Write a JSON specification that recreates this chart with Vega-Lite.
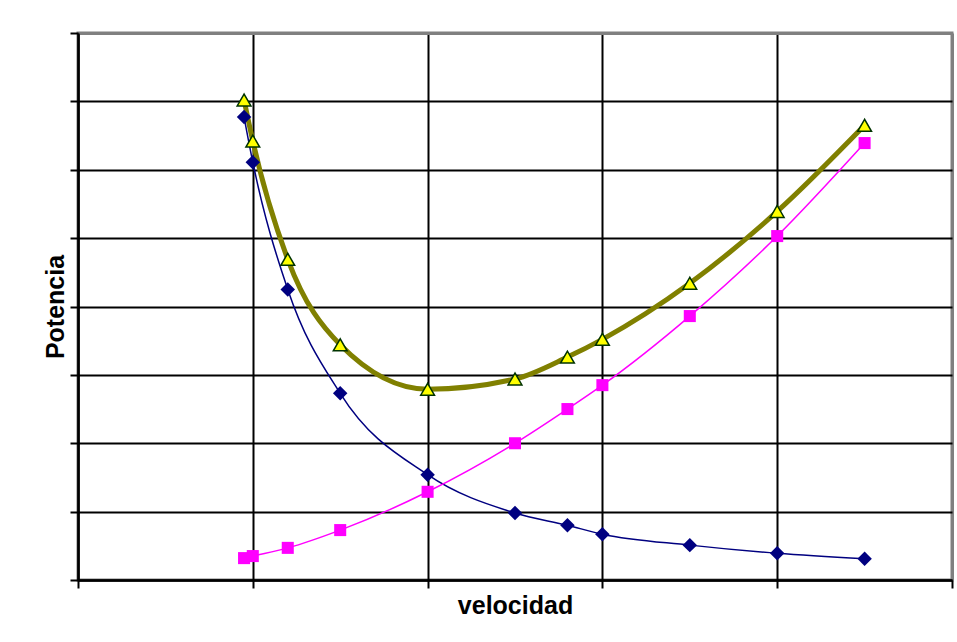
{
  "$schema": "https://vega.github.io/schema/vega-lite/v6.json",
  "autosize": {"type": "none"},
  "width": 874,
  "height": 547,
  "padding": {"left": 78, "top": 33, "right": 5, "bottom": 62},
  "background": "white",
  "config": {
    "view": {"stroke": "#808080", "strokeWidth": 3},
    "font": "Liberation Sans"
  },
  "data": {
    "values": [
      {"v": 0.95, "p": 6.77, "s": "A"},
      {"v": 1.0, "p": 6.11, "s": "A"},
      {"v": 1.2, "p": 4.25, "s": "A"},
      {"v": 1.5, "p": 2.73, "s": "A"},
      {"v": 2.0, "p": 1.54, "s": "A"},
      {"v": 2.5, "p": 0.98, "s": "A"},
      {"v": 2.8, "p": 0.8, "s": "A"},
      {"v": 3.0, "p": 0.67, "s": "A"},
      {"v": 3.5, "p": 0.51, "s": "A"},
      {"v": 4.0, "p": 0.39, "s": "A"},
      {"v": 4.5, "p": 0.31, "s": "A"},
      {"v": 0.95, "p": 0.32, "s": "B"},
      {"v": 1.0, "p": 0.35, "s": "B"},
      {"v": 1.2, "p": 0.47, "s": "B"},
      {"v": 1.5, "p": 0.73, "s": "B"},
      {"v": 2.0, "p": 1.29, "s": "B"},
      {"v": 2.5, "p": 2.0, "s": "B"},
      {"v": 2.8, "p": 2.5, "s": "B"},
      {"v": 3.0, "p": 2.85, "s": "B"},
      {"v": 3.5, "p": 3.86, "s": "B"},
      {"v": 4.0, "p": 5.03, "s": "B"},
      {"v": 4.5, "p": 6.39, "s": "B"},
      {"v": 0.95, "p": 7.02, "s": "C"},
      {"v": 1.0, "p": 6.42, "s": "C"},
      {"v": 1.2, "p": 4.69, "s": "C"},
      {"v": 1.5, "p": 3.44, "s": "C"},
      {"v": 2.0, "p": 2.79, "s": "C"},
      {"v": 2.5, "p": 2.94, "s": "C"},
      {"v": 2.8, "p": 3.26, "s": "C"},
      {"v": 3.0, "p": 3.52, "s": "C"},
      {"v": 3.5, "p": 4.34, "s": "C"},
      {"v": 4.0, "p": 5.39, "s": "C"},
      {"v": 4.5, "p": 6.65, "s": "C"}
    ]
  },
  "encoding": {
    "x": {
      "field": "v", "type": "quantitative",
      "scale": {"domain": [0, 5], "nice": false, "zero": false},
      "axis": {
        "values": [0, 1, 2, 3, 4, 5],
        "labels": false,
        "grid": true,
        "gridColor": {"condition": {"test": "datum.value === 5", "value": "#808080"}, "value": "black"},
        "gridWidth": {"condition": {"test": "datum.value === 5", "value": 3}, "value": 2},
        "gridOpacity": 1,
        "ticks": true, "tickSize": 8, "tickColor": "black", "tickWidth": 2,
        "domain": true, "domainColor": "black", "domainWidth": 2.5,
        "title": "velocidad",
        "titleFont": "Liberation Sans", "titleFontSize": 25, "titleFontWeight": "bold",
        "titleColor": "black", "titlePadding": 4
      }
    },
    "y": {
      "field": "p", "type": "quantitative",
      "scale": {"domain": [0, 8], "nice": false, "zero": false},
      "axis": {
        "values": [0, 1, 2, 3, 4, 5, 6, 7, 8],
        "labels": false,
        "grid": true,
        "gridColor": {"condition": {"test": "datum.value === 8", "value": "#808080"}, "value": "black"},
        "gridWidth": {"condition": {"test": "datum.value === 8", "value": 3}, "value": 2},
        "gridOpacity": 1,
        "ticks": true, "tickSize": 8, "tickColor": "black", "tickWidth": 2,
        "domain": true, "domainColor": "black", "domainWidth": 2.5,
        "title": "Potencia",
        "titleFont": "Liberation Sans", "titleFontSize": 25, "titleFontWeight": "bold",
        "titleColor": "black", "titlePadding": 1
      }
    }
  },
  "layer": [
    {
      "transform": [{"filter": "datum.s === 'C'"}],
      "mark": {"type": "line", "interpolate": "monotone", "color": "#808000", "strokeWidth": 5}
    },
    {
      "transform": [{"filter": "datum.s === 'A'"}],
      "mark": {"type": "line", "interpolate": "monotone", "color": "#000080", "strokeWidth": 1.5}
    },
    {
      "transform": [{"filter": "datum.s === 'B'"}],
      "mark": {"type": "line", "interpolate": "monotone", "color": "#FF00FF", "strokeWidth": 1.5}
    },
    {
      "transform": [{"filter": "datum.s === 'A'"}],
      "mark": {"type": "point", "shape": "diamond", "filled": true, "color": "#000080", "size": 210, "opacity": 1}
    },
    {
      "transform": [{"filter": "datum.s === 'B'"}],
      "mark": {"type": "point", "shape": "square", "filled": true, "color": "#FF00FF", "size": 145, "opacity": 1}
    },
    {
      "transform": [{"filter": "datum.s === 'C'"}],
      "mark": {"type": "point", "shape": "triangle-up", "filled": true, "fill": "#FFFF00", "stroke": "#003300", "strokeWidth": 1.5, "size": 190, "opacity": 1}
    }
  ]
}
